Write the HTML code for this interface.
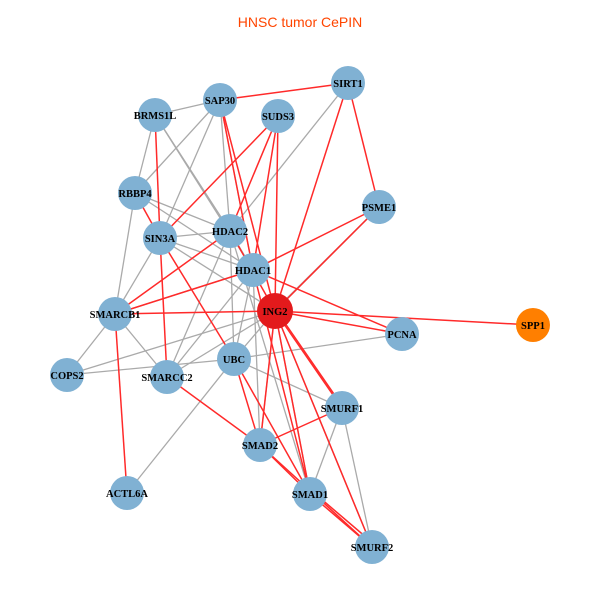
<!DOCTYPE html>
<html><head><style>body{margin:0;background:#fff}svg{display:block}</style></head><body>
<svg width="600" height="600" xmlns="http://www.w3.org/2000/svg">
<text x="300" y="27" text-anchor="middle" font-family="Liberation Sans, sans-serif" font-size="14" fill="#ff4500">HNSC tumor CePIN</text>
<g stroke="#aaaaaa" stroke-width="1.3">
<line x1="220" y1="100" x2="155" y2="115"/><line x1="220" y1="100" x2="135" y2="193"/><line x1="220" y1="100" x2="160" y2="238"/><line x1="220" y1="100" x2="230" y2="231"/><line x1="220" y1="100" x2="253" y2="270"/>
<line x1="155" y1="115" x2="135" y2="193"/><line x1="155" y1="115" x2="230" y2="231"/><line x1="155" y1="115" x2="253" y2="270"/>
<line x1="348" y1="83" x2="230" y2="231"/><line x1="379" y1="207" x2="275" y2="311"/><line x1="379" y1="207" x2="270" y2="315"/>
<line x1="135" y1="193" x2="230" y2="231"/><line x1="135" y1="193" x2="253" y2="270"/><line x1="135" y1="193" x2="115" y2="314"/>
<line x1="160" y1="238" x2="230" y2="231"/><line x1="160" y1="238" x2="253" y2="270"/><line x1="160" y1="238" x2="115" y2="314"/><line x1="160" y1="238" x2="275" y2="311"/>
<line x1="230" y1="231" x2="253" y2="270"/><line x1="230" y1="231" x2="167" y2="377"/><line x1="230" y1="231" x2="234" y2="359"/><line x1="230" y1="231" x2="310" y2="494"/>
<line x1="253" y1="270" x2="167" y2="377"/><line x1="253" y1="270" x2="234" y2="359"/><line x1="253" y1="270" x2="260" y2="445"/><line x1="253" y1="270" x2="115" y2="314"/>
<line x1="275" y1="311" x2="234" y2="359"/><line x1="275" y1="311" x2="67" y2="375"/><line x1="275" y1="311" x2="167" y2="377"/><line x1="275" y1="311" x2="260" y2="445"/><line x1="275" y1="311" x2="310" y2="494"/><line x1="275" y1="311" x2="372" y2="547"/>
<line x1="115" y1="314" x2="67" y2="375"/><line x1="115" y1="314" x2="167" y2="377"/>
<line x1="67" y1="375" x2="234" y2="359"/><line x1="234" y1="359" x2="402" y2="334"/><line x1="234" y1="359" x2="342" y2="408"/><line x1="234" y1="359" x2="127" y2="493"/>
<line x1="342" y1="408" x2="310" y2="494"/><line x1="342" y1="408" x2="372" y2="547"/>
</g>
<g stroke="#ff2a2a" stroke-width="1.5">
<line x1="220" y1="100" x2="348" y2="83"/><line x1="348" y1="83" x2="379" y2="207"/><line x1="348" y1="83" x2="275" y2="311"/>
<line x1="220" y1="100" x2="275" y2="311"/><line x1="220" y1="100" x2="253" y2="270"/>
<line x1="278" y1="116" x2="160" y2="238"/><line x1="278" y1="116" x2="253" y2="270"/><line x1="278" y1="116" x2="275" y2="311"/><line x1="278" y1="116" x2="230" y2="231"/>
<line x1="155" y1="115" x2="160" y2="238"/><line x1="135" y1="193" x2="160" y2="238"/>
<line x1="379" y1="207" x2="253" y2="270"/><line x1="379" y1="207" x2="275" y2="311"/>
<line x1="160" y1="238" x2="167" y2="377"/><line x1="160" y1="238" x2="234" y2="359"/>
<line x1="230" y1="231" x2="115" y2="314"/><line x1="275" y1="311" x2="115" y2="314"/><line x1="253" y1="270" x2="115" y2="314"/>
<line x1="275" y1="311" x2="533" y2="325"/><line x1="253" y1="270" x2="402" y2="334"/><line x1="275" y1="311" x2="402" y2="334"/>
<line x1="275" y1="311" x2="342" y2="408"/><line x1="278" y1="313" x2="345" y2="410"/><line x1="275" y1="311" x2="260" y2="445"/><line x1="275" y1="311" x2="310" y2="494"/><line x1="275" y1="311" x2="372" y2="547"/>
<line x1="230" y1="231" x2="275" y2="311"/>
<line x1="115" y1="314" x2="127" y2="493"/><line x1="167" y1="377" x2="260" y2="445"/><line x1="234" y1="359" x2="260" y2="445"/><line x1="234" y1="359" x2="310" y2="494"/>
<line x1="260" y1="445" x2="342" y2="408"/><line x1="260" y1="445" x2="310" y2="494"/><line x1="260" y1="445" x2="372" y2="547"/><line x1="310" y1="494" x2="372" y2="547"/><line x1="313" y1="492" x2="374" y2="544"/>
<line x1="253" y1="270" x2="310" y2="494"/>
</g>
<g fill="#80b1d3">
<circle cx="220" cy="100" r="17"/><circle cx="348" cy="83" r="17"/><circle cx="155" cy="115" r="17"/><circle cx="278" cy="116" r="17"/>
<circle cx="379" cy="207" r="17"/><circle cx="135" cy="193" r="17"/><circle cx="160" cy="238" r="17"/><circle cx="230" cy="231" r="17"/>
<circle cx="253" cy="270" r="17"/><circle cx="115" cy="314" r="17"/><circle cx="402" cy="334" r="17"/><circle cx="67" cy="375" r="17"/>
<circle cx="167" cy="377" r="17"/><circle cx="234" cy="359" r="17"/><circle cx="342" cy="408" r="17"/><circle cx="260" cy="445" r="17"/>
<circle cx="127" cy="493" r="17"/><circle cx="310" cy="494" r="17"/><circle cx="372" cy="547" r="17"/>
</g>
<circle cx="275" cy="311" r="18" fill="#e31a1c"/><circle cx="533" cy="325" r="17" fill="#ff7f00"/>
<g font-family="Liberation Serif, serif" font-size="10.5" font-weight="bold" text-anchor="middle" fill="#000">
<text x="220" y="104">SAP30</text><text x="348" y="87">SIRT1</text><text x="155" y="119">BRMS1L</text><text x="278" y="120">SUDS3</text>
<text x="379" y="211">PSME1</text><text x="135" y="197">RBBP4</text><text x="160" y="242">SIN3A</text><text x="230" y="235">HDAC2</text>
<text x="253" y="274">HDAC1</text><text x="275" y="315">ING2</text><text x="533" y="329">SPP1</text><text x="115" y="318">SMARCB1</text>
<text x="402" y="338">PCNA</text><text x="67" y="379">COPS2</text><text x="167" y="381">SMARCC2</text><text x="234" y="363">UBC</text>
<text x="342" y="412">SMURF1</text><text x="260" y="449">SMAD2</text><text x="127" y="497">ACTL6A</text><text x="310" y="498">SMAD1</text><text x="372" y="551">SMURF2</text>
</g>
</svg>
</body></html>
